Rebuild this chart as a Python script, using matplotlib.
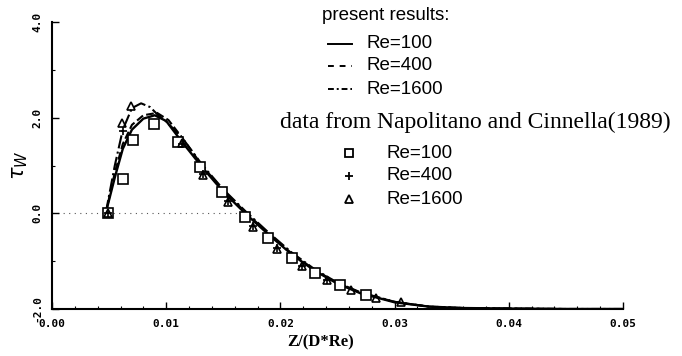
import matplotlib
matplotlib.use("Agg")
import matplotlib.pyplot as plt
from matplotlib.lines import Line2D
from matplotlib.ticker import MultipleLocator, FixedLocator

# ---- present results (curves) ----
x_re100 = [0.0047, 0.0055, 0.0062, 0.0070, 0.0080, 0.0090, 0.0100, 0.0112, 0.0132,
           0.0150, 0.0170, 0.0190, 0.0210, 0.0230, 0.0250, 0.0270, 0.0300, 0.0330,
           0.0360, 0.0400, 0.0450, 0.0500]
y_re100 = [0.0, 0.75, 1.35, 1.75, 1.98, 2.05, 1.93, 1.55, 0.95,
           0.45, -0.02, -0.45, -0.86, -1.20, -1.47, -1.67, -1.86, -1.95,
           -1.98, -1.99, -2.0, -2.0]

x_re400 = [0.0047, 0.0055, 0.0062, 0.0070, 0.0080, 0.0092, 0.0102, 0.0114, 0.0132,
           0.0150, 0.0170, 0.0190, 0.0210, 0.0230, 0.0250, 0.0270, 0.0300, 0.0330,
           0.0360, 0.0400, 0.0450, 0.0500]
y_re400 = [0.0, 0.85, 1.45, 1.85, 2.05, 2.10, 1.95, 1.58, 0.98,
           0.48, 0.01, -0.43, -0.84, -1.18, -1.46, -1.66, -1.85, -1.95,
           -1.98, -1.99, -2.0, -2.0]

x_re1600 = [0.0047, 0.0055, 0.0062, 0.0070, 0.0078, 0.0086, 0.0093, 0.0100, 0.0114,
            0.0132, 0.0150, 0.0170, 0.0190, 0.0210, 0.0230, 0.0250, 0.0270, 0.0300,
            0.0330, 0.0360, 0.0400, 0.0450, 0.0500]
y_re1600 = [0.0, 1.0, 1.75, 2.2, 2.3, 2.22, 2.05, 1.92, 1.58,
            1.0, 0.5, 0.03, -0.41, -0.82, -1.17, -1.45, -1.65, -1.85,
            -1.95, -1.98, -1.99, -2.0, -2.0]

# ---- data from Napolitano and Cinnella (1989) ----
xd_re100 = [0.0049, 0.0062, 0.0071, 0.0089, 0.0110, 0.0130, 0.0149, 0.0169,
            0.0189, 0.0210, 0.0230, 0.0252, 0.0275]
yd_re100 = [0.0, 0.71, 1.53, 1.86, 1.49, 0.96, 0.45, -0.08,
            -0.52, -0.94, -1.24, -1.50, -1.70]

xd_re400 = [0.0049, 0.0062, 0.0114, 0.0132, 0.0154, 0.0176, 0.0197, 0.0219, 0.0241]
yd_re400 = [0.0, 1.72, 1.45, 0.82, 0.25, -0.27, -0.73, -1.10, -1.39]

xd_re1600 = [0.0049, 0.0061, 0.0069, 0.0114, 0.0132, 0.0154, 0.0176, 0.0197,
             0.0219, 0.0241, 0.0262, 0.0284, 0.0306]
yd_re1600 = [0.0, 1.88, 2.24, 1.47, 0.80, 0.23, -0.29, -0.75,
             -1.11, -1.40, -1.60, -1.76, -1.86]

x_ticks = [0.0, 0.01, 0.02, 0.03, 0.04, 0.05]
x_ticklabels = ["0.00", "0.01", "0.02", "0.03", "0.04", "0.05"]
y_ticks = [-2.0, 0.0, 2.0, 4.0]
y_ticklabels = ["-2.0", "0.0", "2.0", "4.0"]

W, H = 682, 356
fig = plt.figure(figsize=(W / 100, H / 100), dpi=100)
ax = fig.add_axes([52 / W, 1 - 309 / H, (623 - 52) / W, (309 - 22) / H])

ax.axhline(0, xmin=0, xmax=0.34, ls=(0, (1, 4)), lw=0.8, color="#555555", zorder=1)

ax.plot(x_re100, y_re100, "-", color="black", lw=1.7, zorder=3)
ax.plot(x_re400, y_re400, "--", color="black", lw=1.5, zorder=3)
ax.plot(x_re1600, y_re1600, "-.", color="black", lw=1.5, zorder=3)

ax.plot(xd_re100, yd_re100, "s", ms=7, mfc="white", mec="black", mew=1.2, ls="none", zorder=4)
ax.plot(xd_re400, yd_re400, "+", ms=6, mec="black", mew=1.2, ls="none", zorder=5)
ax.plot(xd_re1600, yd_re1600, "^", ms=6, mfc="none", mec="black", mew=1.2, ls="none", zorder=5)

ax.set_xlim(0, 0.05)
ax.set_ylim(-2.0, 4.0)
ax.xaxis.set_major_locator(FixedLocator(x_ticks))
ax.xaxis.set_minor_locator(MultipleLocator(0.002))
ax.yaxis.set_major_locator(FixedLocator(y_ticks))
ax.yaxis.set_minor_locator(MultipleLocator(1.0))
ax.set_xticklabels(x_ticklabels, family="DejaVu Sans Mono", fontweight="bold", fontsize=8)
ax.set_yticklabels(y_ticklabels, family="DejaVu Sans Mono", fontweight="bold", fontsize=8,
                   rotation=90, va="center")
ax.tick_params(direction="in", length=5, width=1.0, pad=7)
ax.tick_params(which="minor", direction="in", length=2.5, width=0.8)
for sp in ["top", "right"]:
    ax.spines[sp].set_visible(False)
for sp in ["left", "bottom"]:
    ax.spines[sp].set_linewidth(1.5)

ax.set_xlabel("Z/(D*Re)", family="Liberation Serif", fontweight="bold", fontsize=12, labelpad=4)
ax.xaxis.set_label_coords(0.47, -0.09)
ax.set_ylabel(r"$\tau_W$", fontsize=15, labelpad=2)

# ---- hand-placed legend (pixel positions of the original figure) ----
def fx(px):
    return px / W

def fy(py):
    return 1 - py / H

sans = dict(family="Liberation Sans", fontsize=13.5, va="center", ha="left")
fig.text(fx(322), fy(15), "present results:", **sans)
for py, ls, lab in [(44, "-", "Re=100"), (66, (0, (3, 3)), "Re=400"), (89, (0, (3, 1.5, 1, 1.5)), "Re=1600")]:
    fig.add_artist(Line2D([fx(328), fx(352)], [fy(py), fy(py)], ls=ls, lw=1.4, color="black"))
    fig.text(fx(366), fy(py), lab, **sans)
fig.text(fx(280), fy(122), "data from Napolitano and Cinnella(1989)",
         family="Liberation Serif", fontsize=17, va="center", ha="left")
for py, mk, lab in [(153, "s", "Re=100"), (176, "+", "Re=400"), (199, "^", "Re=1600")]:
    fig.add_artist(Line2D([fx(349)], [fy(py)], marker=mk, ms=5.5, mfc="white",
                          mec="black", mew=1.3, ls="none"))
    fig.text(fx(386), fy(py), lab, **sans)

fig.savefig("out.png", dpi=100)
